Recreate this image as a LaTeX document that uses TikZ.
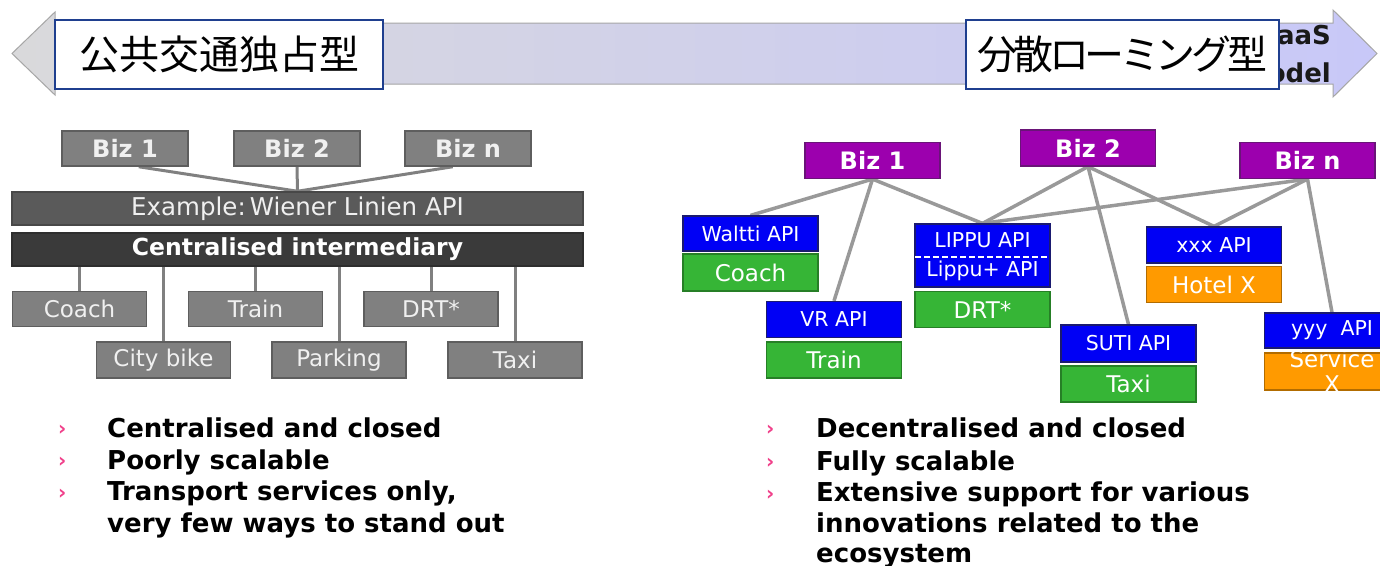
\documentclass[tikz,border=0pt]{standalone}
\usepackage{fontspec}
\setmainfont{DejaVu Sans}
\newfontfamily\jpfont{Noto Sans CJK JP}
\newfontfamily\jpfonttight[LetterSpace=-11]{Noto Sans CJK JP}
\usetikzlibrary{backgrounds,calc}

\definecolor{arrL}{HTML}{D9D9DB}
\definecolor{arrR}{HTML}{C8C8F8}
\definecolor{arrEdge}{HTML}{A6A6A6}
\definecolor{jpblue}{HTML}{1F3F8F}
\definecolor{gbox}{HTML}{808080}
\definecolor{gedge}{HTML}{5E5E5E}
\definecolor{gtext}{HTML}{F0F0F0}
\definecolor{exfill}{HTML}{5A5A5A}
\definecolor{cenfill}{HTML}{3A3A3A}
\definecolor{lline}{HTML}{808080}
\definecolor{rline}{HTML}{999999}
\definecolor{bizpurple}{HTML}{9C00AE}
\definecolor{bizedge}{HTML}{6A1478}
\definecolor{apiblue}{HTML}{0000F5}
\definecolor{apiedge}{HTML}{1A1A70}
\definecolor{svcgreen}{HTML}{36B536}
\definecolor{svcorange}{HTML}{FF9A00}
\definecolor{bulletpink}{HTML}{F0408A}

\tikzset{
  jpbox/.style={draw=jpblue, line width=2pt, fill=white, inner sep=0pt,
    minimum height=69pt},
  gbase/.style={draw=gedge, fill=gbox, line width=1.5pt, text=gtext, inner sep=0pt},
  lbiz/.style={gbase, minimum width=126pt, minimum height=35pt,
    font=\bfseries\fontsize{24}{24}\selectfont},
  lsvc/.style={gbase, minimum width=134pt, minimum height=35pt,
    font=\fontsize{23}{23}\selectfont},
  lbar/.style={draw=#1!80!black, fill=#1, line width=1.5pt, inner sep=0pt,
    minimum width=571pt, minimum height=33pt, text=gtext},
  rbiz/.style={draw=bizedge, fill=bizpurple, line width=1.2pt, text=white, inner sep=0pt,
    minimum width=135pt, minimum height=36pt, font=\bfseries\fontsize{24}{24}\selectfont},
  apitext/.style={font=\fontsize{20.5}{20.5}\selectfont},
  rapi/.style={draw=apiedge, fill=apiblue, line width=1.2pt, text=white, inner sep=0pt,
    minimum width=135pt, minimum height=36pt, apitext},
  rsvc/.style={draw=#1!70!black, fill=#1, line width=1.2pt, text=white, inner sep=0pt,
    minimum width=135pt, minimum height=36pt, font=\fontsize{23}{23}\selectfont},
  lconn/.style={draw=lline, line width=3pt},
  rconn/.style={draw=rline, line width=3.5pt},
  btext/.style={anchor=base west, inner sep=0pt, font=\bfseries\fontsize{26}{26}\selectfont},
  bmark/.style={anchor=base west, inner sep=0pt, text=bulletpink,
    font=\bfseries\fontsize{20}{20}\selectfont},
}

\begin{document}
\begin{tikzpicture}[x=1pt,y=-1pt]
\useasboundingbox (0,0) rectangle (1380,565);
\clip (0,0) rectangle (1380,565);

% double-headed scale arrow across the top
\shadedraw[left color=arrL, right color=arrR, draw=arrEdge, line width=1pt]
  (12,53.5) -- (55,12) -- (55,23) -- (1333,23) -- (1333,10) -- (1377,53.5)
  -- (1333,97) -- (1333,84) -- (55,84) -- (55,95) -- cycle;
\node[anchor=east, align=right, inner sep=0pt, text=black!90,
  font=\bfseries\fontsize{26}{38}\selectfont] (maas) at (1331,54) {MaaS\\model};
\node[jpbox, minimum width=328pt, font=\jpfont\fontsize{40}{40}\selectfont]
  (jpL) at (219,54.5) {公共交通独占型};
\node[jpbox, minimum width=313pt, font=\jpfonttight\fontsize{40}{40}\selectfont]
  (jpR) at (1122.5,54.5) {分散ローミング型};

% ---- centralised model ----
\node[lbiz] (lbiz1) at (125,148.5) {Biz 1};
\node[lbiz] (lbiz2) at (297,148.5) {Biz 2};
\node[lbiz] (lbizn) at (468,148.5) {Biz n};
\node[lbar=exfill, font=\fontsize{24.5}{24.5}\selectfont] (example) at (297.5,208.5)
  {Example:\,Wiener Linien API};
\node[lbar=cenfill, text=white, font=\bfseries\fontsize{23.5}{23.5}\selectfont] (central)
  at (297.5,249.5) {Centralised intermediary};
\node[lsvc] (lcoach) at (79.5,309) {Coach};
\node[lsvc] (ltrain) at (255.5,309) {Train};
\node[lsvc] (ldrt) at (431,309) {DRT*};
\node[lsvc, minimum height=36pt] (lcity) at (163.5,360) {City bike};
\node[lsvc, minimum height=36pt] (lparking) at (339,360) {Parking};
\node[lsvc, minimum height=36pt] (ltaxi) at (515,360) {Taxi};

% ---- decentralised roaming model ----
\node[rbiz] (rbiz1) at (872.5,160.5) {Biz 1};
\node[rbiz] (rbiz2) at (1088,148) {Biz 2};
\node[rbiz] (rbizn) at (1307.5,160.5) {Biz n};

\node[rapi, minimum height=35pt] (waltti) at (750.5,233.5) {Waltti API};
\node[rsvc=svcgreen, minimum height=37pt] (rcoach) at (750.5,272.5) {Coach};
\node[rapi] (vr) at (834,319.5) {VR API};
\node[rsvc=svcgreen] (rtrain) at (834,360) {Train};
\node[rapi, minimum height=63pt] (lippu) at (982.5,255.5) {};
\node[inner sep=0pt, text=white, apitext] (lippuA) at (982.5,240.5) {LIPPU API};
\node[inner sep=0pt, text=white, apitext] (lippuB) at (982.5,270.5) {Lippu+ API};
\draw[white, line width=1.5pt, dash pattern=on 6pt off 3pt]
  ($(lippu.west)+(1,1.5)$) -- ($(lippu.east)+(-1,1.5)$);
\node[rsvc=svcgreen] (rdrt) at (982.5,309.5) {DRT*};
\node[rapi] (xxx) at (1214,245) {xxx API};
\node[rsvc=svcorange] (hotel) at (1214,284.5) {Hotel X};
\node[rapi, minimum height=37pt] (suti) at (1128.5,343.5) {SUTI API};
\node[rsvc=svcgreen] (rtaxi) at (1128.5,384) {Taxi};
\node[rapi, minimum height=35pt] (yyy) at (1332,330.5) {yyy\ \ API};
\node[rsvc=svcorange, minimum height=37pt] (service) at (1332,371.5) {};
\node[inner sep=0pt, align=center, text=white, font=\fontsize{23}{25}\selectfont]
  (serviceT) at (1332,371) {Service\\X};

% connectors, kept behind the boxes
\begin{pgfonlayer}{background}
  \fill[white] (0,0) rectangle (1380,565);
  \draw[lconn] (lbiz1.-53) -- (example.north);
  \draw[lconn] (lbiz2.south) -- (example.north);
  \draw[lconn] (lbizn.-130) -- (example.north);
  \foreach \n in {lcoach,ltrain,ldrt,lcity,lparking,ltaxi}
    \draw[lconn] (\n.north) -- (\n.north |- central.south);
  \draw[rconn] (rbiz1.south) -- (waltti.north);
  \draw[rconn] (rbiz1.south) -- (vr.north);
  \draw[rconn] (rbiz1.south) -- (lippu.north);
  \draw[rconn] (rbiz2.south) -- (lippu.north);
  \draw[rconn] (rbiz2.south) -- (suti.north);
  \draw[rconn] (rbiz2.south) -- (xxx.north);
  \draw[rconn] (rbizn.south) -- (lippu.north);
  \draw[rconn] (rbizn.south) -- (xxx.north);
  \draw[rconn] (rbizn.south) -- (yyy.north);
\end{pgfonlayer}

% ---- bullet lists ----
\node[bmark] (lm1) at (58,435) {›};
\node[btext] (lt1) at (107,437) {Centralised and closed};
\node[bmark] (lm2) at (58,467) {›};
\node[btext] (lt2) at (107,469) {Poorly scalable};
\node[bmark] (lm3) at (58,499) {›};
\node[btext] (lt3) at (107,500) {Transport services only,};
\node[btext] (lt4) at (107,532) {very few ways to stand out};

\node[bmark] (rm1) at (766,435) {›};
\node[btext] (rt1) at (816,437) {Decentralised and closed};
\node[bmark] (rm2) at (766,468) {›};
\node[btext] (rt2) at (816,470) {Fully scalable};
\node[bmark] (rm3) at (766,500) {›};
\node[btext] (rt3) at (816,501) {Extensive support for various};
\node[btext] (rt4) at (816,532) {innovations related to the};
\node[btext] (rt5) at (816,562) {ecosystem};
\end{tikzpicture}
\end{document}
